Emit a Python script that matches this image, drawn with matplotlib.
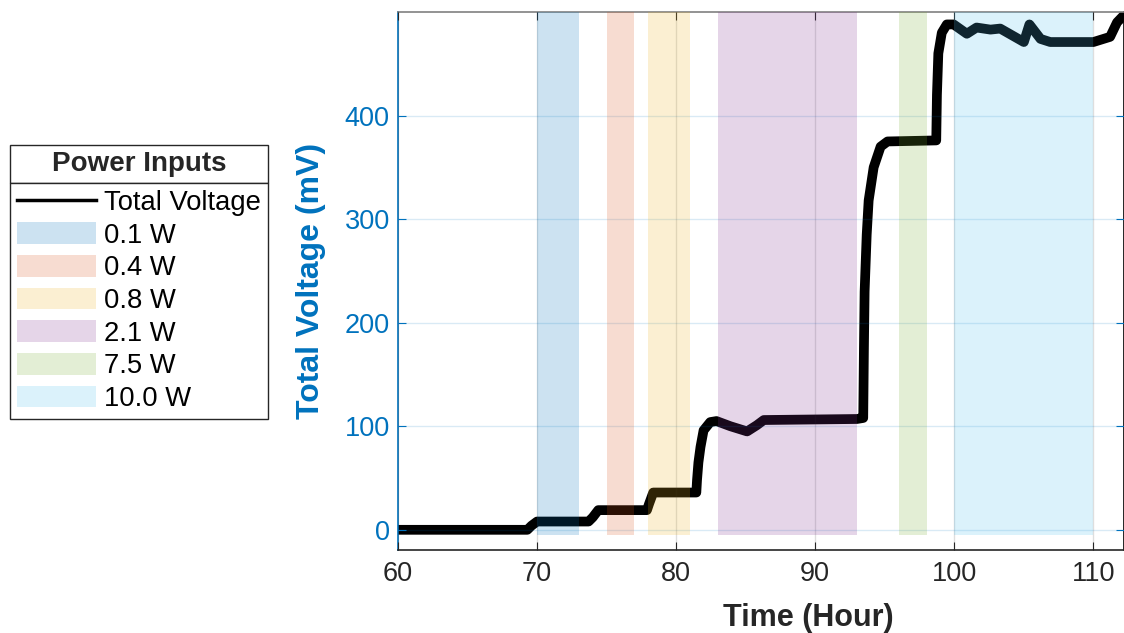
import numpy as np
import matplotlib.pyplot as plt
from matplotlib.lines import Line2D
from matplotlib.patches import Patch, Rectangle

plt.rcParams['font.family'] = ['Liberation Sans', 'DejaVu Sans']

# total voltage trace
time_h = [60, 64, 69.3, 69.6, 70.0, 73.7, 74.0, 74.4, 77.9, 78.05, 78.35,
          81.45, 81.5, 81.6, 81.75, 81.97, 82.45, 82.9, 83.9, 85.1, 85.8,
          86.3, 93.0, 93.45, 93.5, 93.55, 93.7, 93.84, 94.2, 94.7, 95.2,
          98.7, 98.75, 98.85, 99.1, 99.46, 99.95, 100.9, 101.6, 102.6,
          103.3, 105.0, 105.4, 106.2, 106.9, 110.0, 111.2, 111.7, 112.2]
voltage_mv = [0, 0, 0, 4, 8, 8, 12, 19, 19, 25, 36,
              36, 48, 65, 80, 96, 104, 105, 100, 95, 101,
              106, 107, 108, 175, 230, 285, 318, 350, 370, 375,
              376, 420, 460, 480, 488, 488, 479, 485, 483,
              484, 471, 488, 474, 471, 471, 476, 490, 497]

# power input windows
power_labels = ['0.1 W', '0.4 W', '0.8 W', '2.1 W', '7.5 W', '10.0 W']
power_start = [70, 75, 78, 83, 96, 100]
power_end = [73, 77, 81, 93, 98, 110]
power_colors = ['#0072BD', '#D95319', '#EDB120', '#7E2F8E', '#77AC30', '#4DBEEE']

blue = '#0072BD'
dark = '#262626'
W, H = 1124, 633

fig = plt.figure(figsize=(W / 100, H / 100), dpi=100)
ax = fig.add_axes([398 / W, 1 - 550 / H, 1 - 398 / W, (550 - 12) / H])

ax.plot(time_h, voltage_mv, color='black', lw=7, zorder=2,
        solid_joinstyle='round')

for s, e, c in zip(power_start, power_end, power_colors):
    ax.fill_between([s, e], -5, 500, color=c, alpha=0.2, lw=0, zorder=3)

ax.set_xlim(60, 112.2)
ax.set_ylim(-19.5, 500)
ax.set_xticks([60, 70, 80, 90, 100, 110])
ax.set_yticks([0, 100, 200, 300, 400])

ax.grid(axis='x', color=dark, alpha=0.15, lw=1)
ax.grid(axis='y', color=blue, alpha=0.15, lw=1)
ax.set_axisbelow(False)

ax.tick_params(axis='x', direction='in', top=True, labelsize=19.5,
               colors=dark, length=6, pad=8)
ax.tick_params(axis='y', direction='in', right=True, labelsize=19.5,
               colors=blue, length=6, pad=6)
ax.spines['left'].set_color(blue)
ax.spines['bottom'].set_color(dark)
ax.spines['top'].set_color('#808080')
for sp in ax.spines.values():
    sp.set_linewidth(1.2)

ax.set_xlabel('Time (Hour)', fontsize=22, fontweight='bold', color=dark)
ax.xaxis.set_label_coords((808 - 398) / (W - 398), -(603 - 550) / 538)
ax.set_ylabel('Total Voltage (mV)', fontsize=23, fontweight='bold', color=blue)
ax.yaxis.set_label_coords(-(398 - 326) / (W - 398), 0.5)

handles = [Line2D([0], [0], color='black', lw=2.5)]
handles += [Patch(facecolor=c, alpha=0.2, edgecolor='none') for c in power_colors]
labels = ['Total Voltage'] + power_labels

leg = fig.legend(handles, labels, loc='upper left',
                 bbox_to_anchor=(10 / W, 1 - 183 / H),
                 borderaxespad=0, fontsize=19.7,
                 frameon=True, fancybox=False, edgecolor=dark,
                 handlelength=2.9, handleheight=0.85, handletextpad=0.3,
                 labelspacing=0.23, borderpad=0.24)
leg.get_frame().set_linewidth(1.0)
leg.get_frame().set_alpha(None)

# title box above the legend entries
fig.canvas.draw()
inv = fig.transFigure.inverted()
lb = leg.get_window_extent()
(x0, y0), (x1, y1) = inv.transform([(lb.x0, lb.y0), (lb.x1, lb.y1)])
ytop = 1 - 145 / H
fig.add_artist(Rectangle((x0, y1), x1 - x0, ytop - y1, transform=fig.transFigure,
                         facecolor='white', edgecolor=dark, lw=1.0))
fig.text((x0 + x1) / 2, (y1 + ytop) / 2, 'Power Inputs', ha='center',
         va='center', fontsize=20, fontweight='bold', color=dark)

fig.savefig('out.png', dpi=100)
